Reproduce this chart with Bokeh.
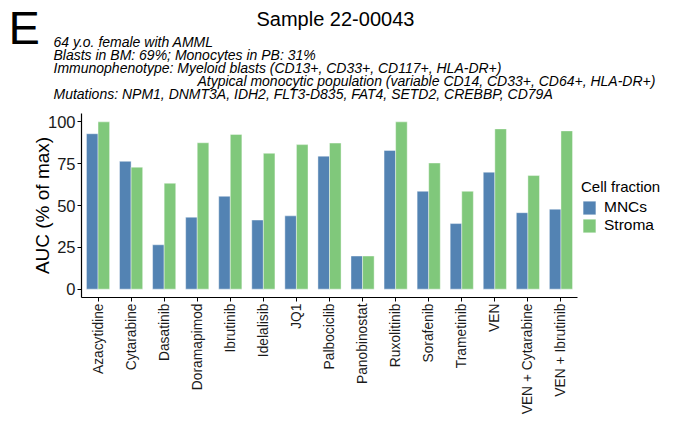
import math
from bokeh.plotting import figure
from bokeh.models import ColumnDataSource, Range1d, Title, Legend, LegendItem, FixedTicker
from bokeh.embed import file_html
from bokeh.resources import INLINE

# ---------------- data ----------------
drugs = ["Azacytidine", "Cytarabine", "Dasatinib", "Doramapimod", "Ibrutinib",
         "Idelalisib", "JQ1", "Palbociclib", "Panobinostat", "Ruxolitinib",
         "Sorafenib", "Trametinib", "VEN", "VEN + Cytarabine", "VEN + Ibrutinib"]
mncs = [92.9, 76.4, 26.5, 43.0, 55.5, 41.3, 43.8, 79.5, 19.8, 82.9, 58.5, 39.2, 69.9, 45.7, 47.8]
stroma = [100.0, 72.9, 63.3, 87.5, 92.5, 81.2, 86.4, 87.3, 19.8, 100.0, 75.4, 58.5, 95.8, 67.9, 94.6]
series_names = ["MNCs", "Stroma"]
y_ticks = [0, 25, 50, 75, 100]

title_text = "Sample 22-00043"
subtitle_lines = [
    "64 y.o. female with AMML",
    "Blasts in BM: 69%; Monocytes in PB: 31%",
    "Immunophenotype: Myeloid blasts (CD13+, CD33+, CD117+, HLA-DR+)",
    "Atypical monocytic population (variable CD14, CD33+, CD64+, HLA-DR+)",
    "Mutations: NPM1, DNMT3A, IDH2, FLT3-D835, FAT4, SETD2, CREBBP, CD79A",
]
panel_letter = "E"

# ---------------- styling ----------------
BLUE = "#5383B3"
GREEN = "#80C87B"
FONT = "Liberation Sans"

W, H = 661, 417
ML, MT, MB = 81, 113, 117
AXIS_PX = 496                       # width of the categorical axis in pixels
N = len(drugs)
XMAX = N * (W - ML) / AXIS_PX       # extra room on the right holds the legend
BAR_W = 0.35

centers = [i + 0.5 for i in range(N)]
src = ColumnDataSource(dict(
    drug=drugs, mncs=mncs, stroma=stroma,
    x_mncs=[c - BAR_W / 2 for c in centers],
    x_stroma=[c + BAR_W / 2 for c in centers],
))

p = figure(width=W, height=H,
           x_range=Range1d(0, XMAX), y_range=Range1d(-5, 105),
           output_backend="svg", toolbar_location=None,
           min_border_left=ML, min_border_right=0,
           min_border_top=MT, min_border_bottom=MB)
p.outline_line_color = None
p.xgrid.visible = False
p.ygrid.visible = False

r1 = p.vbar(x="x_mncs", top="mncs", width=BAR_W, source=src,
            fill_color=BLUE, line_color="white", line_width=0.6, line_alpha=0.7)
r2 = p.vbar(x="x_stroma", top="stroma", width=BAR_W, source=src,
            fill_color=GREEN, line_color="white", line_width=0.6, line_alpha=0.7)

for ax in (p.xaxis[0], p.yaxis[0]):
    ax.axis_line_color = "black"
    ax.axis_line_width = 1.2
    ax.major_tick_line_color = "black"
    ax.major_tick_in = 0
    ax.major_tick_out = 4
    ax.minor_tick_line_color = None
    ax.major_label_text_font = FONT
    ax.major_label_text_color = "#1a1a1a"
    ax.major_label_standoff = 2

p.yaxis.ticker = FixedTicker(ticks=y_ticks)
p.yaxis.major_label_text_font_size = "16.5px"
p.yaxis.axis_label = "AUC (% of max)"
p.yaxis.axis_label_text_font = FONT
p.yaxis.axis_label_text_font_size = "19px"
p.yaxis.axis_label_text_font_style = "normal"
p.yaxis.axis_label_text_color = "black"
p.yaxis.axis_label_standoff = -8

p.xaxis.ticker = FixedTicker(ticks=centers)
p.xaxis.major_label_overrides = {c: d for c, d in zip(centers, drugs)}
p.xaxis.bounds = (0, N)
p.xaxis.major_label_orientation = math.pi / 2
p.xaxis.major_label_text_font_size = "13.8px"

legend = Legend(items=[LegendItem(label=series_names[0], renderers=[r1]),
                       LegendItem(label=series_names[1], renderers=[r2])],
                title="Cell fraction", location=(500, 63),
                title_text_font=FONT, title_text_font_size="15px",
                title_text_font_style="normal", title_text_color="black",
                title_standoff=3,
                label_text_font=FONT, label_text_font_size="15.5px", label_text_color="black",
                glyph_width=16, glyph_height=17, label_height=17, label_standoff=7,
                spacing=0, padding=0, margin=0,
                background_fill_alpha=0, border_line_alpha=0)
p.add_layout(legend)


# ---------------- header texts (stacked above the frame) ----------------
def header(text, size, offset, standoff, style="normal"):
    p.add_layout(Title(text=text, text_font=FONT, text_font_size=size,
                       text_font_style=style, text_color="black",
                       align="left", offset=offset, standoff=standoff,
                       vertical_align="middle"), "above")


header(" ", "14px", 0, -5.1)                                   # spacer next to frame
header(subtitle_lines[4], "14px", -28, -4.6, "italic")
header(subtitle_lines[3], "14px", 116, -4.6, "italic")
header(subtitle_lines[2], "14px", -28, -4.6, "italic")
header(subtitle_lines[1], "14px", -28, -4.6, "italic")
header(subtitle_lines[0], "14px", -28, -4.6, "italic")
header(panel_letter, "47px", -73, -39.5)
header(title_text, "20px", 175, -23.3)

open("out.html", "w").write(file_html(p, INLINE))
